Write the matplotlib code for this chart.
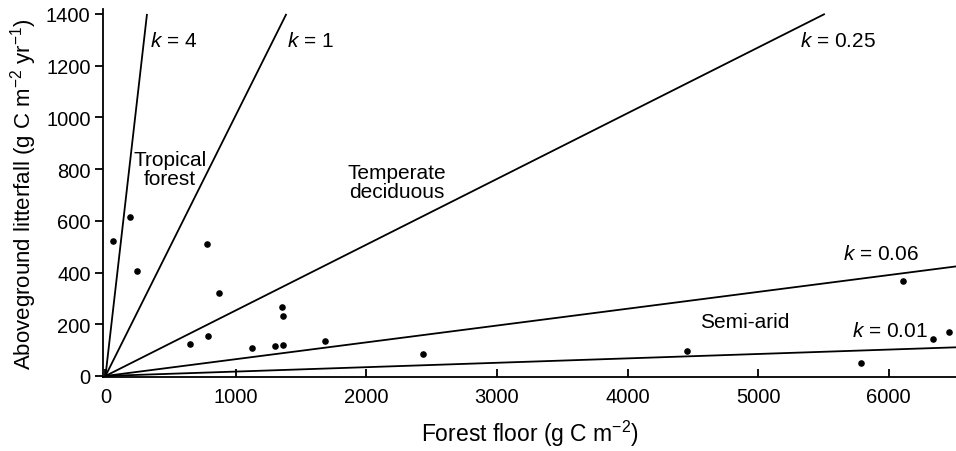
import matplotlib.pyplot as plt

plt.rcParams['font.family'] = ['Liberation Sans', 'DejaVu Sans']
plt.rcParams['mathtext.fontset'] = 'custom'
plt.rcParams['mathtext.rm'] = 'Liberation Sans'
plt.rcParams['mathtext.it'] = 'Liberation Sans:italic'

# observed sites
floor = [60, 188, 239, 775, 872, 648, 788, 1120, 1299, 1362, 1355, 1362, 1682,
         2435, 4454, 6109, 5789, 6343, 6466]
litter = [523, 614, 407, 511, 320, 124, 156, 110, 117, 121, 268, 231, 134,
          85, 98, 366, 51, 143, 171]

# turnover lines (slopes as drawn)
k_labels = ['4', '1', '0.25', '0.06', '0.01']
k_slopes = [4.4, 1.01, 0.254, 0.065, 0.017]

fig = plt.figure(figsize=(9.56, 4.52), dpi=100)
ax = fig.add_axes([103/956, 74/452, 853/956, 368/452])

xmax = 6517
for s in k_slopes:
    xe = min(xmax, 1400 / s)
    ax.plot([0, xe], [0, s * xe], color='black', lw=1.3, solid_capstyle='butt')

ax.scatter(floor, litter, s=14, color='black', zorder=3)

ax.set_xlim(-19, xmax)
ax.set_ylim(-4, 1419)
ax.set_xticks(range(0, 7000, 1000))
ax.set_yticks(range(0, 1600, 200))
ax.spines['top'].set_visible(False)
ax.spines['right'].set_visible(False)
ax.spines['left'].set_linewidth(1.3)
ax.spines['bottom'].set_linewidth(1.3)
ax.tick_params(axis='x', direction='in', length=6, width=1.3, labelsize=14.5, pad=7)
ax.tick_params(axis='y', direction='out', length=6, width=1.3, labelsize=14.5, pad=3)

ax.set_xlabel('Forest floor (g C m$^{-2}$)', fontsize=16.5, labelpad=9)
ax.set_ylabel('Aboveground litterfall (g C m$^{-2}$ yr$^{-1}$)', fontsize=16, labelpad=5)

fs = 15
ax.text(341, 1296, '$k$ = 4', fontsize=fs, va='center')
ax.text(1391, 1296, '$k$ = 1', fontsize=fs, va='center')
ax.text(5322, 1296, '$k$ = 0.25', fontsize=fs, va='center')
ax.text(5651, 472, '$k$ = 0.06', fontsize=fs, va='center')
ax.text(5720, 174, '$k$ = 0.01', fontsize=fs, va='center')
ax.text(494, 800, 'Tropical\nforest', fontsize=fs, ha='center', va='center', linespacing=1.05)
ax.text(2234, 750, 'Temperate\ndeciduous', fontsize=fs, ha='center', va='center', linespacing=1.05)
ax.text(4900, 210, 'Semi-arid', fontsize=fs, ha='center', va='center')

fig.savefig('out.png', dpi=100)
